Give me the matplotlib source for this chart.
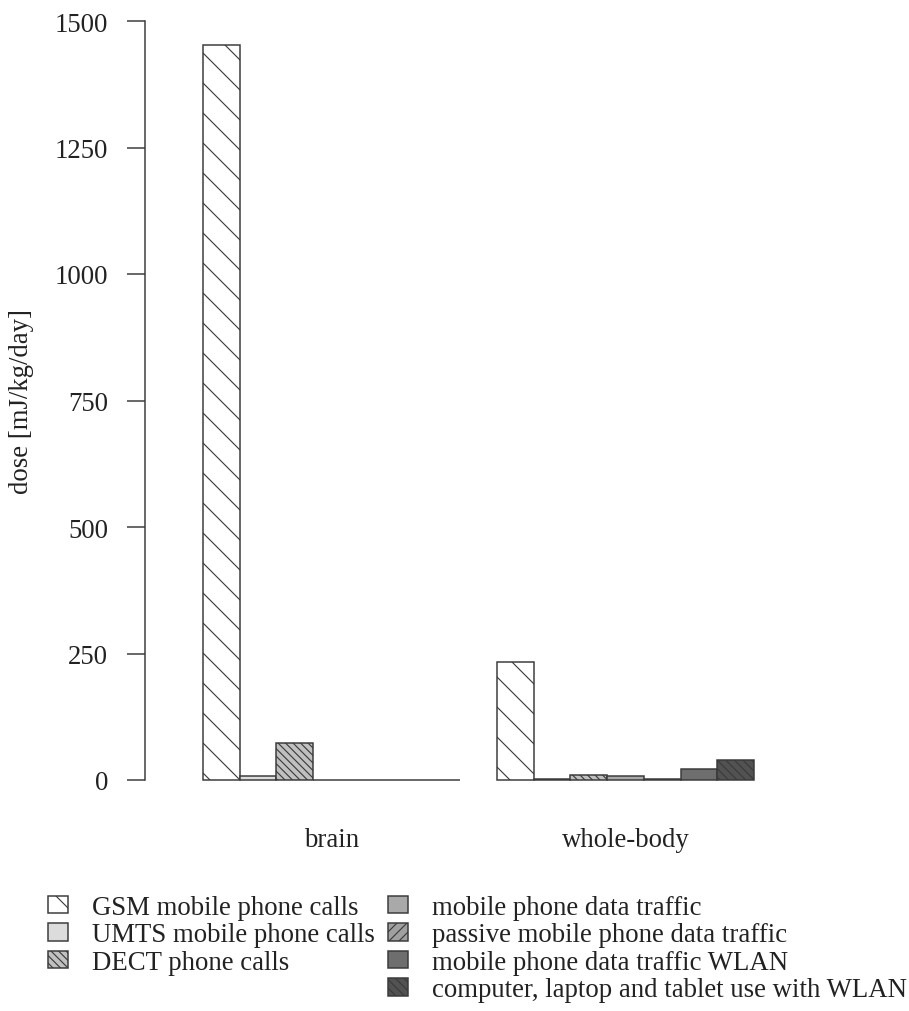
import matplotlib
matplotlib.use("Agg")
import matplotlib.pyplot as plt
import numpy as np
from matplotlib.patches import Rectangle

# data
groups = ["brain", "whole-body"]
sources = ["GSM mobile phone calls", "UMTS mobile phone calls", "DECT phone calls",
           "mobile phone data traffic", "passive mobile phone data traffic",
           "mobile phone data traffic WLAN", "computer, laptop and tablet use with WLAN"]
brain = [1452, 7.3, 72.5, 0.4, 0.3, 0.4, 0.4]
whole_body = [233, 1.0, 9, 7, 1.0, 22, 40]
yticks = [0, 250, 500, 750, 1000, 1250, 1500]

fills = ["white", "#dcdcdc", "#c0c0c0", "#a9a9a9", "#a0a0a0", "#6e6e6e", "#525252"]
hatches = ["\\\\", None, "\\" * 8, None, "//////", None, "\\" * 7]

DPI = 180
W, H = 909, 1012
plt.rcParams["font.family"] = ["Liberation Serif", "DejaVu Serif"]
plt.rcParams["hatch.linewidth"] = 0.45
FS = 10.7
ink = "#222222"
edge = "#3a3a3a"

fig = plt.figure(figsize=(W / DPI, H / DPI), dpi=DPI, facecolor="w")

# axes: left spine at x=145px, y=0 at 781px, y=1500 at 22px
ax_l, ax_r, ax_b, ax_t = 145, 800, 781, 22
ax = fig.add_axes([ax_l / W, 1 - ax_b / H, (ax_r - ax_l) / W, (ax_b - ax_t) / H])
ax.patch.set_alpha(0)

# bar unit 36.73 px, first bar left edge at 203 px
unit = (754 - 203) / 15.0
ax.set_xlim(-(203 - ax_l) / unit, (ax_r - 203) / unit)
ax.set_ylim(0, 1500)

data = [brain, whole_body]
bars = []
for g, vals in enumerate(data):
    x = g * 8 + np.arange(len(vals))
    for i, v in enumerate(vals):
        b = ax.bar(x[i], v, width=1, align="edge", color=fills[i], edgecolor=edge,
                   linewidth=0.6, hatch=hatches[i], clip_on=False)
        if g == 0:
            bars.append(b[0])

for g, name in enumerate(groups):
    ax.text(g * 8 + 3.5, -(847 - 781) * 1500 / (ax_b - ax_t), name, ha="center",
            va="baseline", fontsize=FS, color=ink, clip_on=False)

for s in ["top", "right", "bottom"]:
    ax.spines[s].set_visible(False)
ax.spines["left"].set_bounds(0, 1500)
ax.spines["left"].set_color(edge)
ax.spines["left"].set_linewidth(0.6)
ax.set_xticks([])
ax.set_yticks(yticks)
ax.set_yticklabels([str(t) for t in yticks])
ax.tick_params(axis="y", length=18 * 72 / DPI, width=0.6, color=edge,
               pad=19 * 72 / DPI, labelsize=FS, labelcolor=ink)

fig.text(22 / W, 1 - 401 / H, "dose [mJ/kg/day]", rotation=90, ha="center",
         va="center", fontsize=FS, color=ink)

# legend: 3 entries in first column, 4 in second
blank = Rectangle((0, 0), 1, 1, facecolor="none", edgecolor="none")
handles = bars[:3] + [blank] + bars[3:]
labels = sources[:3] + [""] + sources[3:]
em = FS * DPI / 72
fig.legend(handles, labels, ncol=2, frameon=False, loc="upper left",
           bbox_to_anchor=(48 / W, 1 - 896 / H), borderpad=0, borderaxespad=0,
           fontsize=FS, handlelength=20 / em, handleheight=17 / em,
           handletextpad=24 / em, columnspacing=13 / em, labelspacing=0.09,
           labelcolor=ink)

fig.savefig("out.png", dpi=DPI)
